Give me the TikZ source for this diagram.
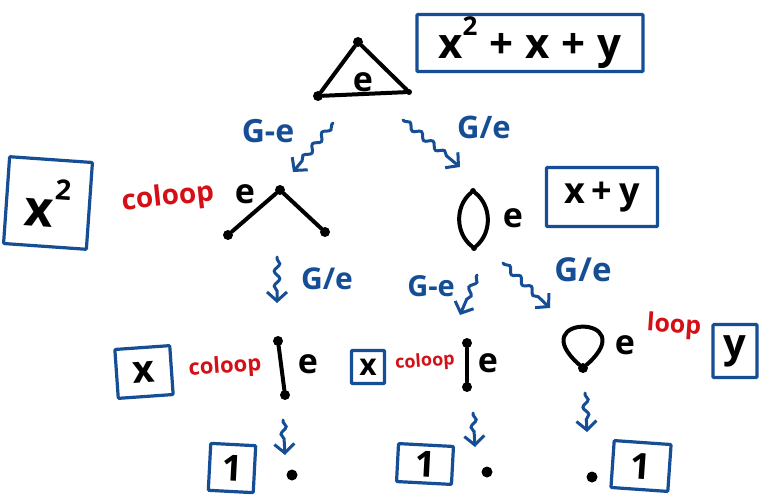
\documentclass[tikz,border=0pt]{standalone}
\usepackage{fontspec}
\setmainfont{Open Sans}
\usetikzlibrary{arrows.meta,decorations.pathmorphing}
\definecolor{inkblue}{RGB}{22,78,150}
\definecolor{inkred}{RGB}{212,16,22}
\newcommand{\fsz}[1]{\fontsize{#1}{#1}\selectfont}
\begin{document}
\begin{tikzpicture}[x=1pt,y=-1pt,
 edge/.style={line width=4pt, line cap=round, line join=round},
 vtx/.style={circle, fill=black, inner sep=0pt, minimum size=10pt},
 svtx/.style={circle, fill=black, inner sep=0pt, minimum size=6pt},
 valbox/.style={draw=inkblue, line width=3.2pt, rounded corners=1pt, inner sep=0pt, text=black, font=\bfseries},
 elabel/.style={font=\bfseries\fsz{34}, inner sep=0pt},
 redlabel/.style={text=inkred, font=\bfseries\fsz{#1}, inner sep=0pt},
 oplabel/.style={text=inkblue, font=\bfseries\fsz{#1}, inner sep=0pt},
 oparrow/.style={draw=inkblue, line width=3pt, line cap=round, decorate,
   decoration={snake, amplitude=2.8pt, segment length=15pt, post length=10pt, pre length=2pt},
   -{Straight Barb[length=9pt,width=20pt]}}
]
\useasboundingbox (0,0) rectangle (765,503);
\fill[white] (0,0) rectangle (765,503);

% ---------- top: triangle ----------
\node[vtx] (t1) at (358,42) {};
\node[vtx] (t2) at (318,96) {};
\node[svtx] (t3) at (409,92) {};
\draw[edge] (t1) -- (t2) -- (t3) -- (t1);
\node[elabel] (te) at (363,82) {e};
\node[valbox, minimum width=226pt, minimum height=57pt] (b0) at (530,43)
  {\fsz{42}x\raisebox{.55em}{\fsz{26}2}\hspace{12pt}+\hspace{12pt}x\hspace{12pt}+\hspace{12pt}y};

% ---------- middle left: path of two edges ----------
\node[vtx] (m1) at (280,190) {};
\node[vtx] (m2) at (228,235) {};
\node[vtx] (m3) at (325,232) {};
\draw[edge] (m2) -- (m1) -- (m3);
\node[elabel] (me) at (245,194) {e};
\node[redlabel=28, rotate=6] (mcol) at (168,198) {coloop};
\node[valbox, minimum width=83pt, minimum height=87pt, rotate=-4] (b1) at (48,203)
  {\fsz{50}x\raisebox{.55em}{\fsz{28}2}};

% ---------- middle right: two parallel edges ----------
\node[svtx] (o1) at (473,191) {};
\node[svtx] (o2) at (474,248) {};
\draw[edge] (o1) to[bend left=50] (o2);
\draw[edge] (o1) to[bend right=50] (o2);
\node[elabel] (oe) at (513,218) {e};
\node[valbox, minimum width=111pt, minimum height=59pt] (b2) at (602,197)
  {\fsz{36}x\hspace{7pt}+\hspace{7pt}y};

% ---------- bottom left ----------
\node[vtx] (l1) at (278,341) {};
\node[vtx] (l2) at (285,395) {};
\draw[edge] (l1) -- (l2);
\node[elabel] (le) at (308,364) {e};
\node[redlabel=22, rotate=4] (lcol) at (225,367) {coloop};
\node[valbox, minimum width=55pt, minimum height=49pt, rotate=4] (b3) at (144,372) {\fsz{38}x};

% ---------- bottom middle ----------
\node[vtx] (c1) at (467,343) {};
\node[vtx] (c2) at (467,387) {};
\draw[edge] (c1) -- (c2);
\node[elabel] (ce) at (488,363) {e};
\node[redlabel=18, rotate=4] (ccol) at (425,362) {coloop};
\node[valbox, minimum width=33pt, minimum height=33pt] (b4) at (368,367) {\fsz{30}x};

% ---------- bottom right: loop ----------
\node[vtx] (r1) at (583,368) {};
\draw[edge] (r1) .. controls (522,314) and (644,314) .. (r1);
\node[elabel] (re) at (625,345) {e};
\node[redlabel=25, rotate=-4] (rloop) at (674,326) {loop};
\node[valbox, minimum width=44pt, minimum height=53pt] (b5) at (735,351) {\fsz{40}y};

% ---------- leaves ----------
\node[vtx, minimum size=11pt] (d1) at (292,475) {};
\node[vtx, minimum size=11pt] (d2) at (487,472) {};
\node[vtx, minimum size=11pt] (d3) at (592,477) {};
\node[valbox, minimum width=45pt, minimum height=47pt, rotate=-3] (u1) at (232,468) {\fsz{36}1};
\node[valbox, minimum width=55pt, minimum height=38pt, rotate=-3] (u2) at (425,464) {\fsz{36}1};
\node[valbox, minimum width=57pt, minimum height=47pt, rotate=-4] (u3) at (641,466) {\fsz{36}1};

% ---------- operation arrows ----------
\coordinate (a1s) at (333,123); \coordinate (a1e) at (293,172);
\coordinate (a2s) at (403,120); \coordinate (a2e) at (460,167);
\coordinate (a3s) at (277,257); \coordinate (a3e) at (277,303);
\coordinate (a4s) at (477,275); \coordinate (a4e) at (460,315);
\coordinate (a5s) at (503,263); \coordinate (a5e) at (550,308);
\coordinate (a6s) at (283,420); \coordinate (a6e) at (285,455);
\coordinate (a7s) at (473,413); \coordinate (a7e) at (475,447);
\coordinate (a8s) at (585,393); \coordinate (a8e) at (587,432);
\draw[oparrow] (a1s) -- (a1e);
\draw[oparrow] (a2s) -- (a2e);
\draw[oparrow] (a3s) -- (a3e);
\draw[oparrow] (a4s) -- (a4e);
\draw[oparrow] (a5s) -- (a5e);
\draw[oparrow] (a6s) -- (a6e);
\draw[oparrow] (a7s) -- (a7e);
\draw[oparrow] (a8s) -- (a8e);

\node[oplabel=32] (g1) at (268,131) {G-e};
\node[oplabel=31] (g2) at (484,127) {G/e};
\node[oplabel=30] (g3) at (327,279) {G/e};
\node[oplabel=29] (g4) at (431,286) {G-e};
\node[oplabel=33] (g5) at (583,270) {G/e};
\end{tikzpicture}
\end{document}
